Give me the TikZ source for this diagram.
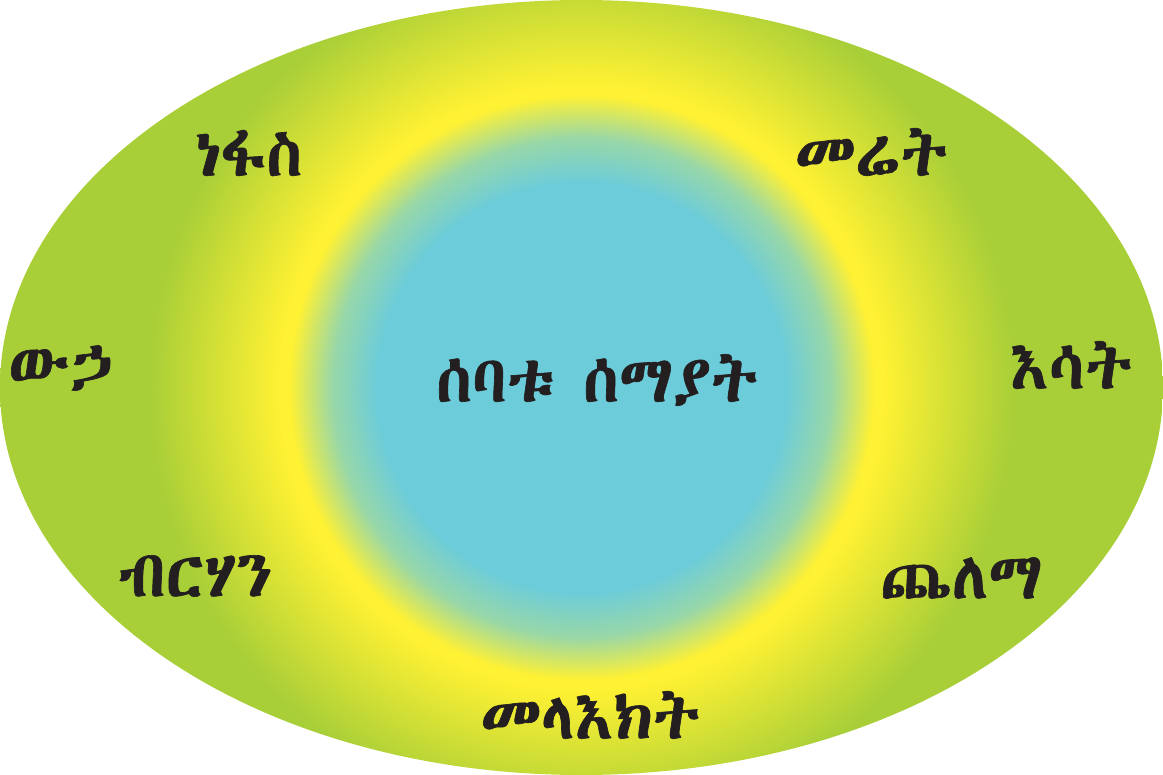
\documentclass[tikz,border=0pt]{standalone}
\usepackage{fontspec}
\newcommand\eth{\rmfamily}
\IfFontExistsTF{Abyssinica SIL}{\newfontfamily\ethA[FakeBold=1]{Abyssinica SIL}\renewcommand\eth{\ethA}}{%
 \IfFontExistsTF{FreeSerif}{\newfontfamily\ethA[FakeBold=1]{FreeSerif}\renewcommand\eth{\ethA}}{}}
\definecolor{cy}{RGB}{108,204,218}
\definecolor{ye}{RGB}{255,241,51}
\definecolor{gr}{RGB}{169,207,56}
\definecolor{txt}{RGB}{35,31,32}
\pgfdeclareradialshading{bgshade}{\pgfpoint{0bp}{0bp}}{%
 color(0bp)=(cy); color(7.3bp)=(cy); color(8.9bp)=(cy!70!ye); color(10.45bp)=(ye); color(10.8bp)=(ye); color(15.4bp)=(gr); color(100bp)=(gr)}
\begin{document}
\begin{tikzpicture}[x=1pt,y=-1pt,
  lab/.style={font=\eth\fontsize{65}{72}\selectfont, text=txt, inner sep=0pt}]
\useasboundingbox (0,0) rectangle (1163,775);
\begin{scope}
\clip (581.5,387.5) ellipse [x radius=581.5, y radius=387.5];
\shade[shading=bgshade] (581.5,387.5) circle [radius=700];
\end{scope}
\node[lab] (centre) at (597,380) {ሰባቱ ሰማያት};
\node[lab] (wind) at (249,153) {ነፋስ};
\node[lab] (earth) at (871,152) {መሬት};
\node[lab] (water) at (60,368) {ውኃ};
\node[lab] (fire) at (1071,365) {እሳት};
\node[lab] (light) at (195,576) {ብርሃን};
\node[lab] (dark) at (961,578) {ጨለማ};
\node[lab] (angels) at (590,715) {መላእክት};
\end{tikzpicture}
\end{document}
